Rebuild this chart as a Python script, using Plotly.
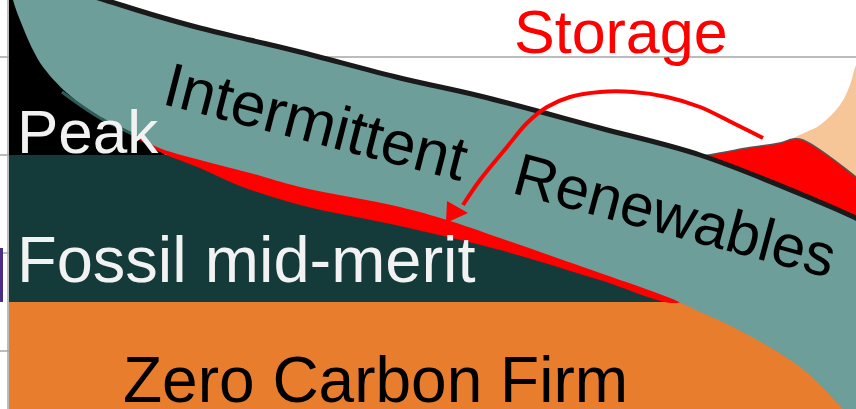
import plotly.graph_objects as go

W, H = 856, 409

# ---- named data (pixel-like coordinates, y grows downward) ----
grid_y = [57, 155, 253, 351]
axis_x = 8

# Zero Carbon Firm block
firm_x = [9, 900, 900, 9]
firm_y = [302, 302, 450, 450]
# Fossil mid-merit block
fossil_x = [9, 900, 900, 9]
fossil_y = [155, 155, 302, 302]
# Peak block
peak_x = [9, 60, 165, 9]
peak_y = [-12, -12, 155, 155]

# Storage strip (below renewables band)
strip_bottom_x = [135, 160, 200, 240, 300, 400, 500, 600, 676]
strip_bottom_y = [136, 152, 168, 186, 205, 226, 250, 280, 303]
strip_top_x = [690, 500, 300, 130]
strip_top_y = [295, 225, 170, 128]

# Intermittent renewables band
ren_top_x = [64, 105, 150, 200, 250, 300, 400, 480, 600, 700, 815, 856, 900]
ren_top_y = [-12, 0, 14, 28, 40, 52, 78, 96, 128, 155, 200, 218, 238]
ren_bot_x = [866, 843, 800, 733, 700, 670, 600, 500, 447, 400, 300, 250, 200, 157, 133, 100, 67, 43, 33, 20, 13, 11]
ren_bot_y = [432, 409, 367, 327, 312, 298, 273, 238, 220, 207, 187, 173, 160, 147, 133, 117, 93, 67, 50, 20, 0, -12]

# darker shade along the lower-left edge of the band
shade_x = [62, 80, 100, 120, 140]
shade_y = [92, 105, 118, 128, 138]

# Peach (other storage) region top right
peach_x = [793, 820, 840, 850, 856, 870, 870, 856, 830, 803]
peach_y = [139, 125, 105, 85, 65, 40, 190, 177, 157, 140]

# Storage blob on top of the band
blob_x = [705, 747, 780, 793, 803, 830, 856, 880, 880, 856, 815, 760, 705]
blob_y = [156, 148, 143, 139, 140, 157, 177, 195, 240, 220, 202, 178, 156]

# Storage arrow
arrow_x = [763, 733, 700, 667, 633, 600, 570, 547, 527, 507, 480, 463]
arrow_y = [138, 123, 107, 97, 92, 92, 97, 107, 123, 147, 180, 205]
head_x = [446, 447, 468]
head_y = [223, 201, 213]

TEAL = "#6D9E99"
DKGREEN = "#143B3A"
ORANGE = "#E87D2E"
PEACH = "#F6C699"
RED = "#FF0000"

fig = go.Figure()

def poly(x, y, color, shape="linear", line_color=None, lw=0):
    fig.add_trace(go.Scatter(
        x=x + [x[0]], y=y + [y[0]], mode="lines", fill="toself",
        fillcolor=color, line=dict(color=line_color or color, width=lw, shape=shape, smoothing=1),
        hoverinfo="skip", showlegend=False))

poly(firm_x, firm_y, ORANGE)
poly(fossil_x, fossil_y, DKGREEN)
poly(peak_x, peak_y, "#000000")
poly(strip_bottom_x + strip_top_x, strip_bottom_y + strip_top_y, RED, shape="spline")
poly(ren_top_x + [920, 920] + ren_bot_x, ren_top_y + [240, 470] + ren_bot_y, TEAL, shape="spline")
fig.add_trace(go.Scatter(x=shade_x, y=shade_y, mode="lines",
                         line=dict(color="#2E5C59", width=3, shape="spline"),
                         hoverinfo="skip", showlegend=False))
poly(peach_x, peach_y, PEACH, shape="spline")
poly(blob_x, blob_y, RED, shape="spline", line_color="#555555", lw=1.5)

fig.add_trace(go.Scatter(x=ren_top_x, y=ren_top_y, mode="lines",
                         line=dict(color="#1A1A1A", width=5, shape="spline"),
                         hoverinfo="skip", showlegend=False))
fig.add_trace(go.Scatter(x=arrow_x, y=arrow_y, mode="lines",
                         line=dict(color=RED, width=4, shape="spline"),
                         hoverinfo="skip", showlegend=False))
poly(head_x, head_y, RED)

shapes = []
for gy in grid_y:
    shapes.append(dict(type="line", xref="x", yref="y", x0=0, x1=W, y0=gy, y1=gy,
                       line=dict(color="#A6A6A6", width=1.5), layer="below"))
shapes.append(dict(type="line", xref="x", yref="y", x0=axis_x, x1=axis_x, y0=0, y1=H,
                   line=dict(color="#A6A6A6", width=1.5), layer="below"))
shapes.append(dict(type="rect", xref="x", yref="y", x0=0, x1=3, y0=248, y1=302,
                   fillcolor="#4B2E83", line=dict(width=0), layer="above"))

FONT = "Liberation Sans, Arial, sans-serif"
labels = [
    dict(text="Storage", x=621, y=32, size=61, color=RED, angle=0),
    dict(text="Peak", x=88, y=131, size=62, color="#F2F2F2", angle=0),
    dict(text="Fossil mid-merit", x=246, y=259, size=65, color="#F2F2F2", angle=0),
    dict(text="Zero Carbon Firm", x=375, y=380, size=64, color="#000000", angle=0),
    dict(text="Intermittent", x=316, y=121, size=62, color="#000000", angle=14.5),
    dict(text="Renewables", x=675, y=215, size=60, color="#000000", angle=15),
]
annotations = [dict(text=l["text"], x=l["x"], y=l["y"], xref="x", yref="y",
                    showarrow=False, xanchor="center", yanchor="middle",
                    textangle=l["angle"],
                    font=dict(family=FONT, size=l["size"], color=l["color"]))
               for l in labels]

fig.update_layout(
    width=W, height=H, margin=dict(l=0, r=0, t=0, b=0),
    plot_bgcolor="white", paper_bgcolor="white",
    xaxis=dict(range=[0, W], visible=False, fixedrange=True),
    yaxis=dict(range=[H, 0], visible=False, fixedrange=True),
    shapes=shapes, annotations=annotations, showlegend=False,
)
fig.write_html("out.html")
